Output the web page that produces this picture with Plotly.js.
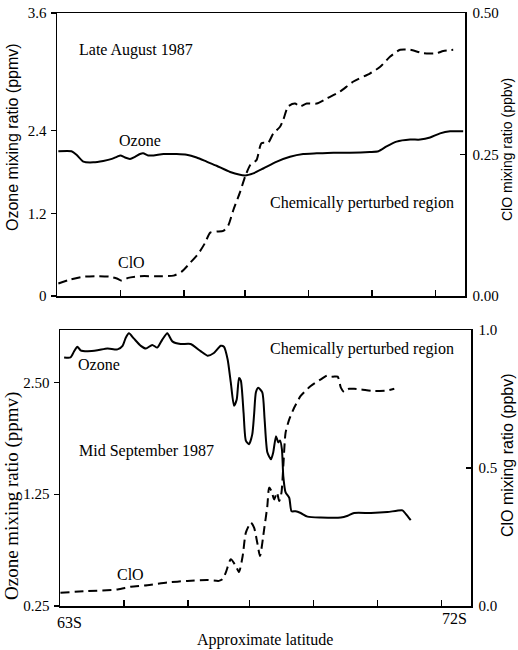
<!DOCTYPE html>
<html>
<head>
<meta charset="utf-8">
<script src="https://cdn.plot.ly/plotly-3.0.1.min.js"></script>
<style>
html,body{margin:0;padding:0;background:#fff;}
#chart{width:518px;height:650px;}
</style>
</head>
<body>
<div id="chart"></div>
<script>
// ---------- Data ----------
// Late August 1987 (top panel)
const augOzoneLat = [63.03,63.32,63.43,63.58,63.80,64.02,64.21,64.32,64.40,64.50,64.61,64.72,64.83,64.90,65.01,65.13,65.35,65.64,65.86,66.08,66.30,66.52,66.82,67.15,67.33,67.55,67.85,68.14,68.43,68.73,69.10,69.46,69.90,70.09,70.27,70.49,70.79,71.01,71.23,71.45,71.67,71.96];
const augOzone    = [2.10,2.10,2.05,1.95,1.94,1.96,1.99,2.02,2.04,2.01,1.99,2.02,2.06,2.07,2.04,2.04,2.06,2.06,2.05,2.01,1.95,1.89,1.80,1.75,1.78,1.85,1.95,2.02,2.06,2.07,2.08,2.08,2.09,2.10,2.17,2.24,2.27,2.27,2.30,2.36,2.39,2.39];
const augClOLat   = [63.03,63.29,63.58,63.88,64.17,64.32,64.43,64.57,64.83,65.20,65.57,65.75,65.93,66.12,66.26,66.38,66.52,66.67,66.78,66.89,67.04,67.15,67.26,67.40,67.51,67.66,67.77,67.92,67.99,68.10,68.25,68.36,68.51,68.73,68.95,69.24,69.54,69.90,70.13,70.35,70.57,70.79,71.08,71.38,71.52,71.74];
const augClO      = [0.022,0.029,0.034,0.035,0.034,0.031,0.027,0.032,0.035,0.035,0.036,0.043,0.058,0.075,0.093,0.112,0.114,0.115,0.125,0.152,0.184,0.211,0.231,0.240,0.270,0.271,0.287,0.299,0.311,0.335,0.340,0.335,0.340,0.340,0.349,0.361,0.379,0.393,0.405,0.423,0.435,0.435,0.429,0.429,0.433,0.435];

// Mid September 1987 (bottom panel)
const sepOzoneLat = [63.09,63.23,63.31,63.38,63.45,63.60,63.82,64.04,64.26,64.37,64.44,64.51,64.62,64.77,64.88,65.02,65.13,65.24,65.35,65.46,65.64,65.86,66.08,66.23,66.37,66.52,66.59,66.67,66.74,66.81,66.87,66.92,66.96,67.02,67.07,67.14,67.21,67.25,67.29,67.34,67.43,67.48,67.54,67.62,67.67,67.73,67.78,67.82,67.86,67.89,67.94,68.02,68.07,68.16,68.27,68.42,68.71,69.15,69.30,69.44,69.81,70.17,70.50,70.57,70.68];
const sepOzone    = [2.78,2.78,2.85,2.90,2.86,2.85,2.86,2.88,2.87,2.91,3.00,3.05,2.99,2.91,2.88,2.92,2.89,2.98,3.05,2.96,2.93,2.93,2.85,2.80,2.83,2.91,2.90,2.76,2.50,2.24,2.31,2.55,2.52,2.16,1.85,1.81,1.92,2.14,2.39,2.44,2.39,2.09,1.72,1.64,1.72,1.90,1.83,1.85,1.75,1.45,1.27,1.21,1.06,1.06,1.04,1.00,0.99,0.99,1.01,1.04,1.04,1.05,1.07,1.03,0.96];
const sepClOLat   = [63.01,63.60,64.26,64.55,64.91,65.35,65.79,66.23,66.48,66.56,66.63,66.74,66.85,66.92,67.00,67.07,67.18,67.25,67.32,67.38,67.47,67.54,67.58,67.63,67.69,67.75,67.80,67.85,67.89,67.94,68.02,68.13,68.27,68.49,68.71,68.86,68.97,69.08,69.15,69.22,69.33,69.44,69.59,69.88,70.17,70.32];
const sepClO      = [0.048,0.054,0.060,0.070,0.075,0.085,0.091,0.094,0.091,0.097,0.121,0.169,0.145,0.123,0.181,0.266,0.302,0.284,0.229,0.181,0.278,0.362,0.429,0.417,0.386,0.411,0.380,0.411,0.507,0.628,0.676,0.719,0.761,0.797,0.821,0.836,0.831,0.831,0.791,0.775,0.787,0.787,0.785,0.779,0.781,0.787];

// Tick labels
const augOzoneTicks = [0, 1.2, 2.4, 4.107];
const augOzoneTickText = ["0", "1.2", "2.4", "3.6"];
const augClOTicks = [0, 0.25, 0.5];
const augClOTickText = ["0.00", "0.25", "0.50"];
const sepOzoneTicks = [0, 1.25, 2.5];
const sepOzoneTickText = ["0.25", "1.25", "2.50"];
const sepClOTicks = [0, 0.5, 1.0];
const sepClOTickText = ["0.0", "0.5", "1.0"];
const latTicks = [64.4, 65.8, 67.15, 68.55, 69.95, 71.35];
const latEndLabels = ["63S", "72S"];

// ---------- Layout helpers ----------
const W = 518, H = 650;
const px = (X) => X / W;
const py = (Y) => 1 - Y / H;
const SERIF = "Liberation Serif, Times New Roman, serif";
const SANS = "Liberation Sans, Arial, sans-serif";

const solid = {color: "#000", width: 2, shape: "spline", smoothing: 0.6};
const dashed = {color: "#000", width: 2, dash: "9px,5px", shape: "spline", smoothing: 0.6};

const traces = [
  {x: augOzoneLat, y: augOzone, xaxis: "x", yaxis: "y", mode: "lines", line: solid, name: "Ozone (Aug)"},
  {x: augClOLat, y: augClO, xaxis: "x", yaxis: "y2", mode: "lines", line: dashed, name: "ClO (Aug)"},
  {x: sepOzoneLat, y: sepOzone, xaxis: "x2", yaxis: "y3", mode: "lines", line: solid, name: "Ozone (Sep)"},
  {x: sepClOLat, y: sepClO, xaxis: "x2", yaxis: "y4", mode: "lines", line: dashed, name: "ClO (Sep)"}
];

const tickFont = {family: SERIF, size: 15, color: "#000"};
const baseX = {range: [63, 72], showgrid: false, zeroline: false, showline: true, mirror: true,
  linecolor: "#000", linewidth: 1.5, ticks: "inside", ticklen: 6, tickwidth: 1.3, tickcolor: "#000",
  tickmode: "array", tickvals: latTicks, showticklabels: false, automargin: false, fixedrange: true};
const baseYL = {showgrid: false, zeroline: false, showline: true, linecolor: "#000", linewidth: 1.5,
  ticks: "outside", ticklen: 5, tickwidth: 1.3, tickcolor: "#000", tickmode: "array",
  tickfont: tickFont, automargin: false, fixedrange: true, ticklabelstandoff: 1};
const baseYR = Object.assign({}, baseYL, {side: "right", ticks: "inside", ticklabelstandoff: 3});

const ann = (text, X, Y, opts) => Object.assign({
  text: text, xref: "paper", yref: "paper", x: px(X), y: py(Y), showarrow: false,
  xanchor: "center", yanchor: "middle", font: {family: SERIF, size: 16, color: "#000"}
}, opts || {});

const layout = {
  width: W, height: H,
  margin: {l: 0, r: 0, t: 0, b: 0},
  paper_bgcolor: "#fff", plot_bgcolor: "rgba(0,0,0,0)",
  showlegend: false,
  xaxis: Object.assign({}, baseX, {domain: [px(57), px(465)], anchor: "y"}),
  yaxis: Object.assign({}, baseYL, {domain: [py(296), py(13)], range: [0, 4.107], anchor: "x",
    tickvals: augOzoneTicks, ticktext: augOzoneTickText}),
  yaxis2: Object.assign({}, baseYR, {overlaying: "y", anchor: "x", range: [0, 0.5],
    tickvals: augClOTicks, ticktext: augClOTickText}),
  xaxis2: Object.assign({}, baseX, {domain: [px(60), px(471)], anchor: "y3"}),
  yaxis3: Object.assign({}, baseYL, {domain: [py(606), py(330)], range: [0, 3.087], anchor: "x2",
    tickvals: sepOzoneTicks, ticktext: sepOzoneTickText}),
  yaxis4: Object.assign({}, baseYR, {overlaying: "y3", anchor: "x2", range: [0, 1.0],
    tickvals: sepClOTicks, ticktext: sepClOTickText}),
  annotations: [
    // top panel
    ann("Late August 1987", 77, 50, {xanchor: "left"}),
    ann("Ozone", 140, 140),
    ann("ClO", 131, 262),
    ann("Chemically perturbed region", 362, 203),
    ann("Ozone mixing ratio (ppmv)", 12, 137, {textangle: -90, font: {family: SANS, size: 16, color: "#000"}}),
    ann("ClO mixing ratio (ppbv)", 507, 150, {textangle: -90, font: {family: SANS, size: 14, color: "#000"}}),
    // bottom panel
    ann("Ozone", 99, 364),
    ann("Chemically perturbed region", 362, 349),
    ann("Mid September 1987", 77, 451, {xanchor: "left"}),
    ann("ClO", 130, 574),
    ann("Ozone mixing ratio (ppmv)", 12, 496, {textangle: -90, font: {family: SERIF, size: 19, color: "#000"}}),
    ann("ClO mixing ratio (ppbv)", 508, 455, {textangle: -90, font: {family: SANS, size: 16, color: "#000"}}),
    ann(latEndLabels[0], 55, 622, {xanchor: "left"}),
    ann(latEndLabels[1], 469, 618, {xanchor: "right"}),
    ann("Approximate latitude", 265, 640)
  ]
};

Plotly.newPlot("chart", traces, layout, {staticPlot: true, displayModeBar: false});
</script>
</body>
</html>
